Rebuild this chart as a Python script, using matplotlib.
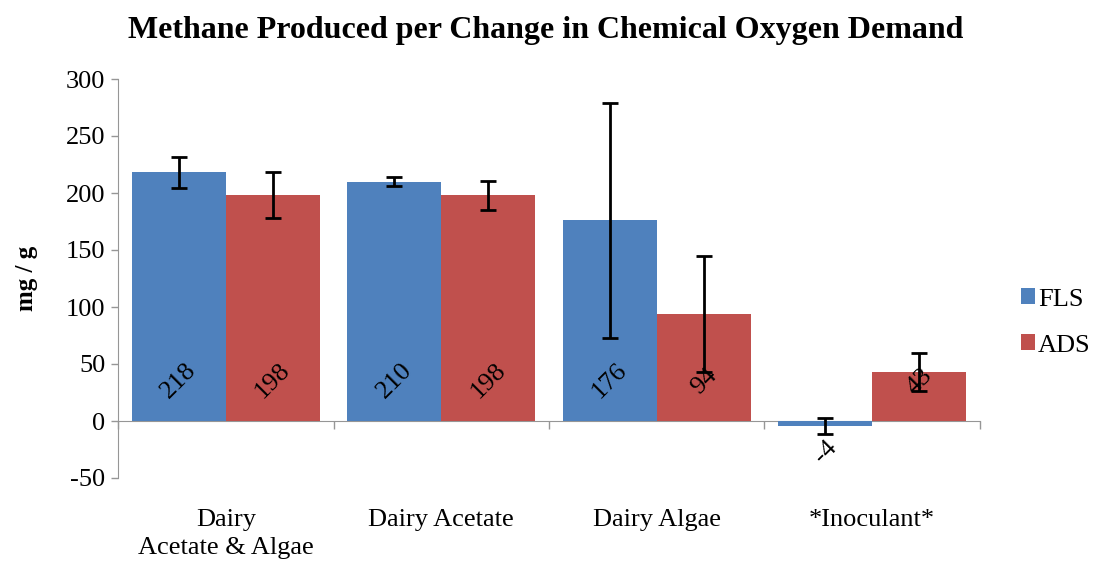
import numpy as np
import matplotlib.pyplot as plt

plt.rcParams['font.family'] = ['Liberation Serif', 'DejaVu Serif']
plt.rcParams['axes.unicode_minus'] = False

categories = ['Dairy\nAcetate & Algae', 'Dairy Acetate', 'Dairy Algae', '*Inoculant*']
fls = [218, 210, 176, -4]
ads = [198, 198, 94, 43]
fls_err = [14, 4, 103, 7]
ads_err = [20, 12.5, 51, 17]

blue = '#4F81BD'
red = '#C0504D'
axis_gray = '#969696'

fig = plt.figure(figsize=(10.94, 5.62), dpi=100)
ax = fig.add_axes([118 / 1094, 1 - 478 / 562, (980 - 118) / 1094, (478 - 79) / 562])

x = np.arange(len(categories))
w = 0.437
ax.bar(x - w / 2, fls, w, color=blue, label='FLS', zorder=2)
ax.bar(x + w / 2, ads, w, color=red, label='ADS', zorder=2)
ax.errorbar(x - w / 2, fls, yerr=fls_err, fmt='none', ecolor='black',
            elinewidth=2, capsize=6, capthick=2, zorder=4)
ax.errorbar(x + w / 2, ads, yerr=ads_err, fmt='none', ecolor='black',
            elinewidth=2, capsize=6, capthick=2, zorder=4)

# value labels near the base of each bar, rotated 45 degrees
for xs, vals in ((x - w / 2, fls), (x + w / 2, ads)):
    for xi, v in zip(xs, vals):
        y = 35 if v >= 0 else -27
        ax.text(xi, y, f'{v}', rotation=45, ha='center', va='center',
                fontsize=19, zorder=3)

ax.set_xlim(-0.5, len(categories) - 0.5)
ax.set_ylim(-50, 300)
ax.set_yticks(np.arange(-50, 301, 50))
ax.tick_params(axis='y', labelsize=19, length=5, color=axis_gray, width=1, pad=4)

ax.spines['top'].set_visible(False)
ax.spines['right'].set_visible(False)
ax.spines['left'].set_color(axis_gray)
ax.spines['bottom'].set_color(axis_gray)
ax.spines['bottom'].set_position(('data', 0))
ax.spines['bottom'].set_zorder(1)
ax.set_xticks(np.arange(-0.5, len(categories), 1.0))
ax.tick_params(axis='x', length=6, color=axis_gray, width=1, labelbottom=False)

# category names sit below the plot area, not on the zero line
for xi, lab in zip(x, categories):
    ax.text(xi, -0.078, lab, transform=ax.get_xaxis_transform(), ha='center',
            va='top', fontsize=19, linespacing=1.35)

ax.set_ylabel('mg / g', fontsize=18, fontweight='bold', labelpad=20)
fig.suptitle('Methane Produced per Change in Chemical Oxygen Demand',
             fontsize=23, fontweight='bold', x=546 / 1094, y=0.972)

ax.legend(loc='center left', bbox_to_anchor=(1.029, 0.39), frameon=False,
          fontsize=19, handlelength=0.55, handleheight=0.55, labelspacing=0.9,
          handletextpad=0.1, borderpad=0.3, borderaxespad=0.3)

fig.savefig('out.png', dpi=100)
